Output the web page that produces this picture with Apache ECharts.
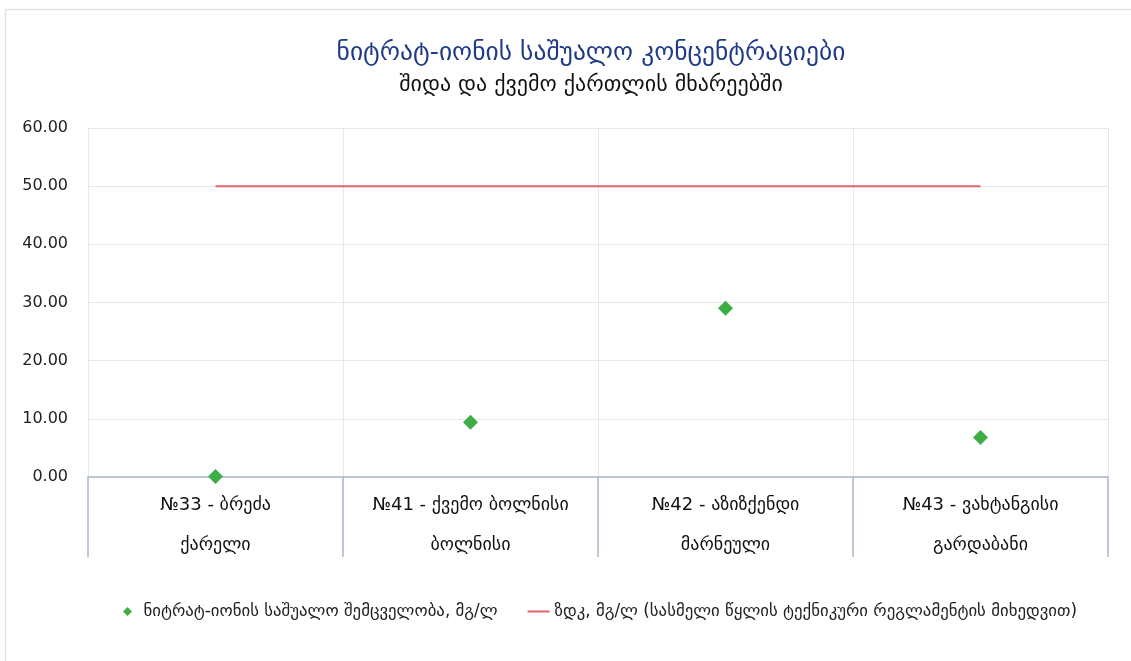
<!DOCTYPE html>
<html>
<head>
<meta charset="utf-8">
<script src="https://cdn.jsdelivr.net/npm/echarts@6/dist/echarts.min.js"></script>
<style>
html,body{margin:0;padding:0;background:#fff;}
#c{width:1131px;height:661px;}
</style>
</head>
<body>
<div id="c"></div>
<script>
const titleText = 'ნიტრატ-იონის საშუალო კონცენტრაციები';
const subtitleText = 'შიდა და ქვემო ქართლის მხარეებში';
const categories = [
  '№33 - ბრეძა\nქარელი',
  '№41 - ქვემო ბოლნისი\nბოლნისი',
  '№42 - აზიზქენდი\nმარნეული',
  '№43 - ვახტანგისი\nგარდაბანი'
];
const nitrateValues = [0.1, 9.4, 29.0, 6.8];
const limitValues = [50, 50, 50, 50];
const seriesNames = ['ნიტრატ-იონის საშუალო შემცველობა, მგ/ლ', 'ზდკ, მგ/ლ (სასმელი წყლის ტექნიკური რეგლამენტის მიხედვით)'];
const yMin = 0, yMax = 60, yStep = 10;

const FONT = '"DejaVu Sans", "Noto Sans", sans-serif';
const chart = echarts.init(document.getElementById('c'));
chart.setOption({
  backgroundColor: '#fff',
  animation: false,
  textStyle: {fontFamily: FONT},
  graphic: [{
    type: 'rect', left: 3, top: 7,
    shape: {width: 1140, height: 670},
    style: {fill: 'none', stroke: '#e2e2e2', lineWidth: 1.5},
    silent: true
  }],
  title: {
    text: titleText,
    subtext: subtitleText,
    left: 586,
    textAlign: 'center',
    top: 35,
    itemGap: 8,
    textStyle: {fontFamily: FONT, fontSize: 25.5, fontWeight: 'normal', color: '#1f3b86'},
    subtextStyle: {fontFamily: FONT, fontSize: 22, color: '#111'}
  },
  legend: {
    bottom: 36,
    left: 118,
    itemGap: 30,
    itemWidth: 22,
    itemHeight: 9,
    textStyle: {fontFamily: FONT, fontSize: 16.8, color: '#222'},
    data: [
      {name: seriesNames[0], icon: 'path://M5,0L10,5L5,10L0,5Z', itemStyle: {color: '#3cae45'}},
      {name: seriesNames[1], icon: 'path://M0,0L22,0L22,2L0,2Z', itemStyle: {color: '#e0666a'}}
    ]
  },
  grid: {left: 88, right: 23, top: 128, bottom: 184},
  xAxis: {
    type: 'category',
    data: categories,
    boundaryGap: true,
    axisLine: {lineStyle: {color: '#a8b6c9', width: 1.5}},
    axisTick: {show: true, interval: 0, length: 80, lineStyle: {color: '#a8b6c9', width: 1.5}},
    splitLine: {show: true, interval: 0, lineStyle: {color: '#e4e7ec'}},
    axisLabel: {interval: 0, fontFamily: FONT, fontSize: 18, color: '#111', lineHeight: 40, margin: 8}
  },
  yAxis: {
    type: 'value',
    min: yMin, max: yMax, interval: yStep,
    axisLine: {show: false},
    axisTick: {show: false},
    splitLine: {lineStyle: {color: '#e4e7ec'}},
    axisLabel: {fontFamily: FONT, fontSize: 16, color: '#222', margin: 20,
      formatter: v => v.toFixed(2)}
  },
  series: [
    {
      name: seriesNames[0],
      type: 'scatter',
      data: nitrateValues,
      symbol: 'diamond',
      symbolSize: 15,
      itemStyle: {color: '#3cae45', opacity: 1},
      z: 5
    },
    {
      name: seriesNames[1],
      type: 'line',
      data: limitValues,
      showSymbol: false,
      symbol: 'none',
      lineStyle: {color: '#e0666a', width: 2},
      itemStyle: {color: '#e0666a'}
    }
  ]
});
</script>
</body>
</html>
